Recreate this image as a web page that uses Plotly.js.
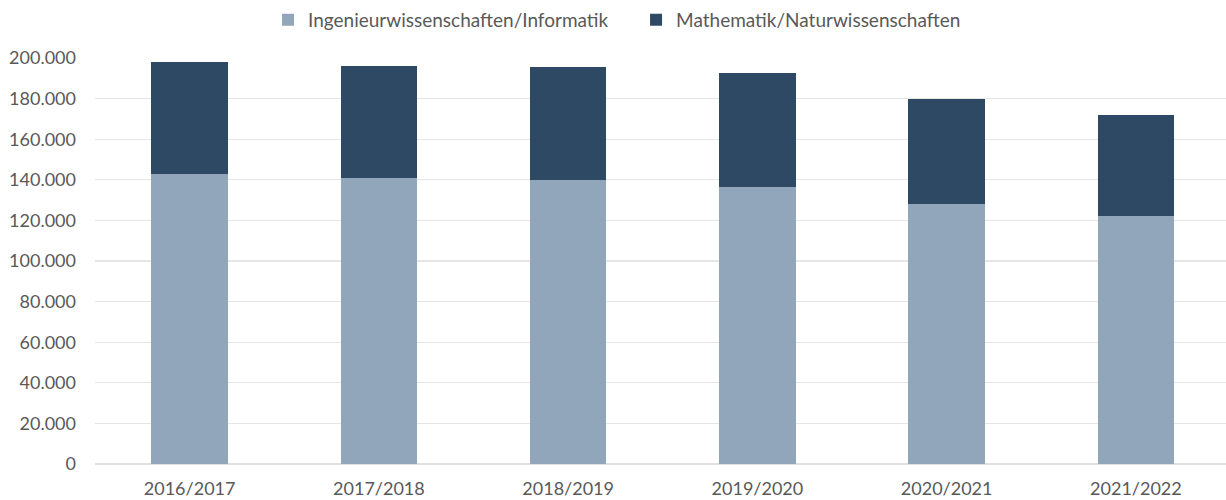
<!DOCTYPE html>
<html>
<head>
<meta charset="utf-8">
<script src="https://cdn.plot.ly/plotly-3.0.1.min.js"></script>
<style>html,body{margin:0;padding:0;background:#fff}#chart{width:1226px;height:500px}</style>
</head>
<body>
<div id="chart"></div>
<script>
const categories = ["2016/2017", "2017/2018", "2018/2019", "2019/2020", "2020/2021", "2021/2022"];
const seriesNames = ["Ingenieurwissenschaften/Informatik", "Mathematik/Naturwissenschaften"];
const ingenieur = [143000, 141000, 139900, 136700, 128000, 122100];
const totals = [198000, 196200, 195700, 192400, 179900, 171900];
const mathe = totals.map((t, i) => t - ingenieur[i]);
const yTickVals = [0, 20000, 40000, 60000, 80000, 100000, 120000, 140000, 160000, 180000, 200000];
const yTickText = ["0", "20.000", "40.000", "60.000", "80.000", "100.000", "120.000", "140.000", "160.000", "180.000", "200.000"];

const font = {family: "Lato, 'Liberation Sans', sans-serif", size: 18, color: "#595959"};
const legendFont = {family: "Lato, 'Liberation Sans', sans-serif", size: 19, color: "#595959"};

const traces = [
  {type: "bar", name: seriesNames[0], x: categories, y: ingenieur, width: 0.405,
   marker: {color: "#91A6BA", line: {width: 0}}},
  {type: "bar", name: seriesNames[1], x: categories, y: mathe, width: 0.405,
   marker: {color: "#2E4963", line: {width: 0}}}
];

const layout = {
  width: 1226, height: 500,
  margin: {l: 95, r: 0, t: 58, b: 36},
  barmode: "stack",
  paper_bgcolor: "#fff", plot_bgcolor: "#fff",
  font: font,
  showlegend: true,
  legend: {orientation: "h", x: 0.153, xanchor: "left", y: 1.094, yanchor: "middle",
           entrywidth: 323, entrywidthmode: "pixels", itemwidth: 30,
           font: legendFont, traceorder: "normal", bgcolor: "rgba(0,0,0,0)"},
  xaxis: {type: "category", range: [-0.5, 5.476], showgrid: false, zeroline: false,
          showline: false, ticks: "", tickfont: font, ticklabelstandoff: 12},
  yaxis: {range: [0, 200000], tickvals: yTickVals, ticktext: yTickText,
          showgrid: true, gridcolor: "#E6E6E6", gridwidth: 1.3, zeroline: true,
          zerolinecolor: "#E0E0E0", zerolinewidth: 1.3, showline: false, ticks: "",
          tickfont: font, ticklabelstandoff: 18}
};

Plotly.newPlot("chart", traces, layout, {displayModeBar: false, staticPlot: true});
</script>
</body>
</html>
